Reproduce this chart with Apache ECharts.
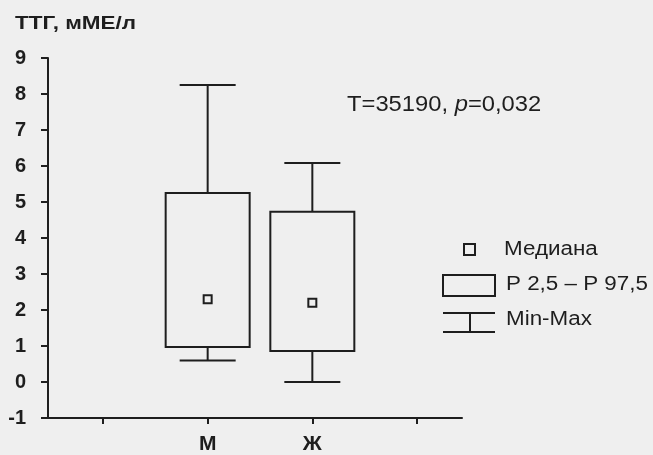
<!DOCTYPE html>
<html>
<head>
<meta charset="utf-8">
<script src="https://cdn.jsdelivr.net/npm/echarts@6/dist/echarts.min.js"></script>
<style>
  html, body { margin: 0; padding: 0; background: #efefef; }
  #chart { width: 653px; height: 455px; }
</style>
</head>
<body>
<div id="chart"></div>
<script>
// группы и значения ТТГ (мМЕ/л)
const groups = ['М', 'Ж'];
const groupPos = [2, 3];
const minVals = [0.6, 0.0];
const lowVals = [0.97, 0.86];     // P 2,5
const medianVals = [2.3, 2.2];
const highVals = [5.25, 4.73];    // P 97,5
const maxVals = [8.25, 6.08];
const xTicks = [1, 2, 3, 4];

const ink = '#1e1e1e';
const font = '"Liberation Sans", Arial, sans-serif';

const boxData = groupPos.map((x, i) => [x, minVals[i], lowVals[i], medianVals[i], highVals[i], maxVals[i]]);

function renderBox(params, api) {
  const x = api.value(0);
  const pMin = api.coord([x, api.value(1)]);
  const pLow = api.coord([x, api.value(2)]);
  const pMed = api.coord([x, api.value(3)]);
  const pHigh = api.coord([x, api.value(4)]);
  const pMax = api.coord([x, api.value(5)]);
  const cx = pMed[0], bw = 42, cw = 28, ms = 4;
  const st = { stroke: ink, lineWidth: 2, fill: null };
  return {
    type: 'group',
    children: [
      { type: 'line', shape: { x1: cx, y1: pHigh[1], x2: cx, y2: pMax[1] }, style: st },
      { type: 'line', shape: { x1: cx - cw, y1: pMax[1], x2: cx + cw, y2: pMax[1] }, style: st },
      { type: 'line', shape: { x1: cx, y1: pLow[1], x2: cx, y2: pMin[1] }, style: st },
      { type: 'line', shape: { x1: cx - cw, y1: pMin[1], x2: cx + cw, y2: pMin[1] }, style: st },
      { type: 'rect', shape: { x: cx - bw, y: pHigh[1], width: bw * 2, height: pLow[1] - pHigh[1] }, style: st },
      { type: 'rect', shape: { x: cx - ms, y: pMed[1] - ms, width: ms * 2, height: ms * 2 }, style: st }
    ]
  };
}

const chart = echarts.init(document.getElementById('chart'));
chart.setOption({
  backgroundColor: '#efefef',
  animation: false,
  grid: { left: 48, right: 191, top: 58, bottom: 36 },
  xAxis: {
    type: 'value',
    min: 0.4745,
    max: 4.43,
    splitLine: { show: false },
    axisLine: { onZero: false, lineStyle: { color: ink, width: 2 } },
    axisTick: { customValues: xTicks, length: 6, lineStyle: { color: ink, width: 2 } },
    axisLabel: {
      customValues: groupPos,
      formatter: v => groups[groupPos.indexOf(v)] || '',
      color: ink, fontSize: 21, fontWeight: 'bold', fontFamily: font, margin: 16
    }
  },
  yAxis: {
    type: 'value',
    min: -1,
    max: 9,
    interval: 1,
    splitLine: { show: false },
    axisLine: { show: true, lineStyle: { color: ink, width: 2 } },
    axisTick: { show: true, length: 7, lineStyle: { color: ink, width: 2 } },
    axisLabel: { color: ink, fontSize: 20, fontWeight: 'bold', fontFamily: font, margin: 22 }
  },
  series: [{
    type: 'custom',
    renderItem: renderBox,
    data: boxData,
    clip: false
  }],
  graphic: [
    { type: 'text', x: 15, y: 24, scaleX: 1.25,
      style: { text: 'ТТГ, мМЕ/л', fill: ink, font: 'bold 18px ' + font, verticalAlign: 'middle' } },
    { type: 'text', x: 347, y: 105, scaleX: 1.08,
      style: {
        text: '{a|T=35190, }{i|p}{a|=0,032}', verticalAlign: 'middle',
        rich: {
          a: { fontSize: 22, fontFamily: font, fill: ink },
          i: { fontSize: 22, fontFamily: font, fontStyle: 'italic', fill: ink }
        }
      } },
    // легенда
    { type: 'rect', shape: { x: 464, y: 244, width: 11, height: 11 }, style: { fill: null, stroke: ink, lineWidth: 2 } },
    { type: 'rect', shape: { x: 443, y: 275, width: 52, height: 21 }, style: { fill: null, stroke: ink, lineWidth: 2 } },
    { type: 'line', shape: { x1: 443, y1: 313, x2: 495, y2: 313 }, style: { stroke: ink, lineWidth: 2 } },
    { type: 'line', shape: { x1: 443, y1: 332, x2: 495, y2: 332 }, style: { stroke: ink, lineWidth: 2 } },
    { type: 'line', shape: { x1: 470, y1: 313, x2: 470, y2: 332 }, style: { stroke: ink, lineWidth: 2 } },
    { type: 'text', x: 504, y: 249, scaleX: 1.12,
      style: { text: 'Медиана', fill: ink, font: '20px ' + font, verticalAlign: 'middle' } },
    { type: 'text', x: 506, y: 284, scaleX: 1.12,
      style: { text: 'P 2,5 – P 97,5', fill: ink, font: '20px ' + font, verticalAlign: 'middle' } },
    { type: 'text', x: 506, y: 319, scaleX: 1.12,
      style: { text: 'Min-Max', fill: ink, font: '20px ' + font, verticalAlign: 'middle' } }
  ]
});
</script>
</body>
</html>
